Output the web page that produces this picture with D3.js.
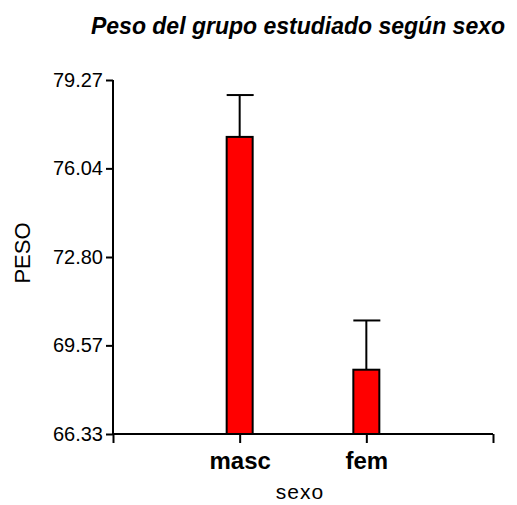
<!DOCTYPE html>
<html><head><meta charset="utf-8">
<script src="https://cdn.jsdelivr.net/npm/d3@7"></script>
<style>body{margin:0;background:#fff}svg{display:block}text{font-family:"Liberation Sans",Arial,sans-serif}</style>
</head><body><div id="chart"></div>
<script>
const categories = ["masc", "fem"];
const means = [77.19, 68.68];
const errors = [1.53, 1.80];
const yTicks = [66.33, 69.57, 72.80, 76.04, 79.27];
const title = "Peso del grupo estudiado según sexo";
const xTitle = "sexo";
const yTitle = "PESO";

const W = 517, H = 505;
const FONT = '"Liberation Sans",Arial,sans-serif';
const svg = d3.select("#chart").append("svg").attr("width", W).attr("height", H);
const x = d3.scaleLinear().domain([0, categories.length + 1]).range([113, 493]);
const y = d3.scaleLinear().domain([66.33, 79.27]).range([434, 80]);
const bw = 26;

// bars
svg.selectAll("rect.bar").data(categories).join("rect")
  .attr("x", (d, i) => x(i + 1) - bw / 2)
  .attr("y", (d, i) => y(means[i]))
  .attr("width", bw)
  .attr("height", (d, i) => y(66.33) - y(means[i]))
  .attr("fill", "#ff0000").attr("stroke", "#000").attr("stroke-width", 2);

// error bars
const eb = svg.append("g").attr("stroke", "#000").attr("stroke-width", 2);
categories.forEach((c, i) => {
  eb.append("line").attr("x1", x(i + 1)).attr("x2", x(i + 1))
    .attr("y1", y(means[i])).attr("y2", y(means[i] + errors[i]));
  eb.append("line").attr("x1", x(i + 1) - bw / 2).attr("x2", x(i + 1) + bw / 2 + 1)
    .attr("y1", y(means[i] + errors[i])).attr("y2", y(means[i] + errors[i]));
});

// y axis
const yAxis = d3.axisLeft(y).tickValues(yTicks).tickFormat(d3.format(".2f")).tickSize(7).tickPadding(3);
const gy = svg.append("g").attr("transform", "translate(113,0)").call(yAxis);
gy.select(".domain").attr("stroke-width", 2).attr("d", "M0,80V434");
gy.selectAll(".tick line").attr("stroke-width", 2);
gy.selectAll(".tick text").attr("font-size", 20).attr("fill", "#000").attr("font-family", FONT);

// x axis
const xAxis = d3.axisBottom(x).tickValues([0, 1, 2, 3]).tickFormat((d) => (d >= 1 && d <= categories.length) ? categories[d - 1] : "").tickSize(9);
const gx = svg.append("g").attr("transform", "translate(0,434)").call(xAxis);
gx.select(".domain").attr("stroke-width", 2).attr("d", "M113,0H493");
gx.selectAll(".tick line").attr("stroke-width", 2);
gx.selectAll(".tick text").attr("y", 35).attr("dy", 0).attr("font-size", 24).attr("font-weight", "bold").attr("fill", "#000").attr("font-family", FONT);

// titles
svg.append("text").attr("x", 298).attr("y", 34).attr("text-anchor", "middle")
  .attr("font-size", 23).attr("font-weight", "bold").attr("font-style", "italic").text(title);
svg.append("text").attr("x", 300).attr("y", 499).attr("text-anchor", "middle")
  .attr("font-size", 21).attr("letter-spacing", 1).text(xTitle);
svg.append("text").attr("transform", "translate(30,253) rotate(-90)").attr("text-anchor", "middle")
  .attr("font-size", 22).text(yTitle);
</script></body></html>
